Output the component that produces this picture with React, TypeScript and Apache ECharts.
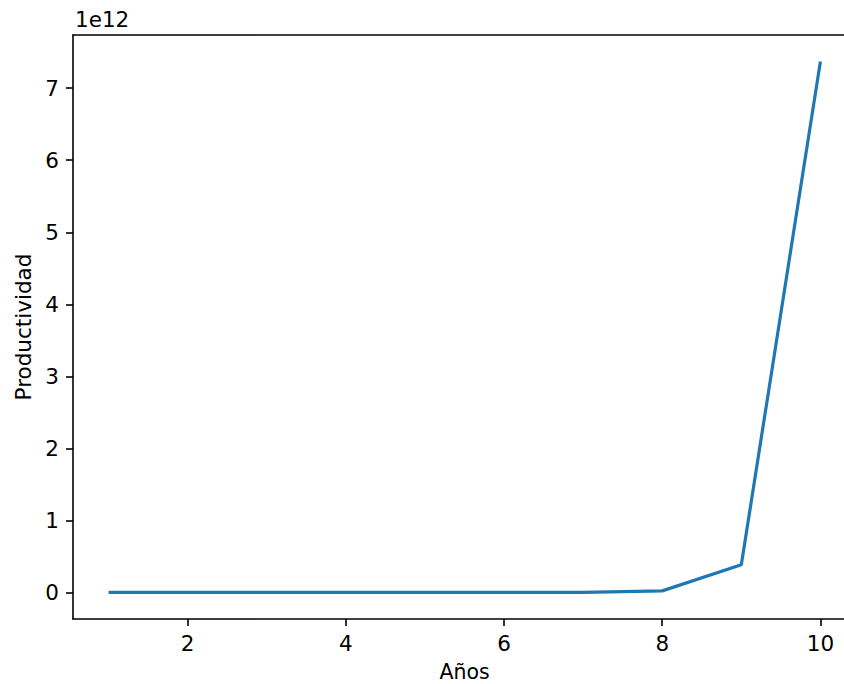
import React, { useEffect, useRef } from "react";
import * as echarts from "echarts";

const years = [1, 2, 3, 4, 5, 6, 7, 8, 9, 10];
const productividad = [0, 0, 0, 0, 0, 1e8, 1e9, 2.2e10, 3.84e11, 7.37e12];
const xTicks = [2, 4, 6, 8, 10];
const yTicks = [0, 1e12, 2e12, 3e12, 4e12, 5e12, 6e12, 7e12];

const FONT = "DejaVu Sans";
const FS = 21.5;

export default function App() {
  const ref = useRef<HTMLDivElement>(null);
  useEffect(() => {
    const chart = echarts.init(ref.current!, null, { renderer: "svg" });
    const maxV = Math.max(...productividad);
    const minV = Math.min(...productividad);
    const padY = (maxV - minV) * 0.05;
    const padX = (years[years.length - 1] - years[0]) * 0.05;
    const xMin = years[0] - padX;
    const xMax = years[years.length - 1] + padX;
    chart.setOption({
      animation: false,
      backgroundColor: "#ffffff",
      grid: {
        left: 73, top: 35, right: 0, bottom: 65,
        containLabel: false, outerBoundsMode: "none",
        show: false,
      },
      graphic: [
        { type: "text", left: 75, top: 8, style: { text: "1e12", font: `${FS}px '${FONT}'`, fill: "#000" } },
      ],
      xAxis: [
        {
          type: "value",
          min: xMin,
          max: xMax,
          name: "Años",
          nameLocation: "middle",
          nameGap: 53,
          nameTextStyle: { fontFamily: FONT, fontSize: 20.5, color: "#000", verticalAlign: "middle" },
          axisLine: { show: true, onZero: false, lineStyle: { color: "#000", width: 1.6 } },
          axisTick: { show: true, length: 7, lineStyle: { color: "#000", width: 1.6 }, customValues: xTicks },
          axisLabel: { fontFamily: FONT, fontSize: FS, color: "#000", margin: 13, customValues: xTicks, formatter: (v: number) => String(v) },
          splitLine: { show: false },
        },
        {
          type: "value",
          position: "top",
          min: xMin,
          max: xMax,
          axisLine: { show: true, onZero: false, lineStyle: { color: "#000", width: 1.6 } },
          axisTick: { show: false },
          axisLabel: { show: false },
          splitLine: { show: false },
        },
      ],
      yAxis: {
        type: "value",
        min: minV - padY,
        max: maxV + padY,
        name: "Productividad",
        nameLocation: "middle",
        nameGap: 50,
        nameRotate: 90,
        nameTextStyle: { fontFamily: FONT, fontSize: FS, color: "#000", verticalAlign: "middle" },
        axisLine: { show: true, onZero: false, lineStyle: { color: "#000", width: 1.6 } },
        axisTick: { show: true, length: 7, lineStyle: { color: "#000", width: 1.6 }, customValues: yTicks },
        axisLabel: { fontFamily: FONT, fontSize: FS, color: "#000", margin: 14, customValues: yTicks, formatter: (v: number) => String(Math.round(v / 1e12)) },
        splitLine: { show: false },
      },
      series: [
        {
          type: "line",
          xAxisIndex: 0,
          data: years.map((y, i) => [y, productividad[i]]),
          showSymbol: false,
          symbol: "none",
          lineStyle: { color: "#1f77b4", width: 3.2 },
          clip: true,
        },
      ],
    });
    return () => chart.dispose();
  }, []);
  return (
    <div style={{ position: "fixed", left: 0, top: 0, width: 844, height: 684, overflow: "hidden", background: "#fff" }}>
      <div ref={ref} style={{ width: 856, height: 684 }} />
    </div>
  );
}
